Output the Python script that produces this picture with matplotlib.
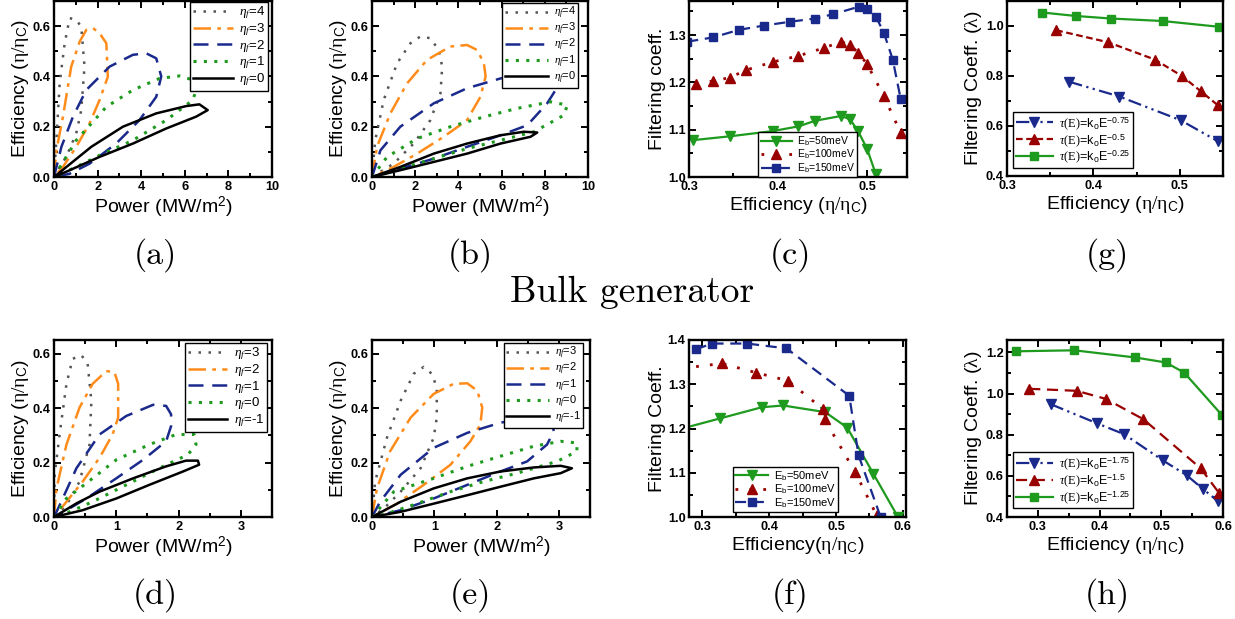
import matplotlib
matplotlib.use("Agg")
import matplotlib.pyplot as plt
from matplotlib.ticker import AutoMinorLocator

plt.rcParams['font.family'] = ['Liberation Sans', 'DejaVu Sans']
plt.rcParams['mathtext.fontset'] = 'custom'
plt.rcParams['mathtext.rm'] = 'Liberation Serif'
plt.rcParams['mathtext.it'] = 'Liberation Serif:italic'
plt.rcParams['mathtext.sf'] = 'Liberation Sans'
plt.rcParams['mathtext.bf'] = 'Liberation Sans:bold'

# ---------------- data: panel (a) ----------------
a_x4 = [0, 0.11, 0.26, 0.49, 0.72, 1.02, 1.25, 1.40, 1.25, 1.02, 0.56, 0.18, 0]
a_y4 = [0, 0.146, 0.372, 0.532, 0.632, 0.625, 0.598, 0.439, 0.266, 0.173, 0.08, 0.027, 0]
a_x3 = [0, 0.11, 0.41, 0.79, 1.18, 1.48, 1.79, 2.09, 2.40, 2.47, 2.09, 1.63, 1.02, 0.41, 0]
a_y3 = [0, 0.106, 0.24, 0.439, 0.539, 0.585, 0.592, 0.572, 0.532, 0.399, 0.306, 0.213, 0.12, 0.04, 0]
a_x2 = [0, 0.34, 0.87, 1.48, 2.55, 3.62, 4.23, 4.69, 4.92, 4.69, 3.92, 2.85, 1.63, 0.72, 0]
a_y2 = [0, 0.12, 0.24, 0.346, 0.439, 0.486, 0.492, 0.472, 0.40, 0.319, 0.226, 0.133, 0.053, 0.013, 0]
a_x1 = [0, 1.02, 2.40, 3.62, 4.84, 5.76, 6.37, 6.52, 6.37, 5.15, 3.62, 2.09, 1.02, 0]
a_y1 = [0, 0.146, 0.279, 0.346, 0.392, 0.402, 0.386, 0.346, 0.306, 0.226, 0.146, 0.086, 0.04, 0]
a_x0 = [0, 1.71, 3.16, 4.69, 6.06, 6.67, 7.05, 6.52, 5.15, 3.62, 2.09, 0.72, 0]
a_y0 = [0, 0.12, 0.20, 0.253, 0.282, 0.289, 0.266, 0.24, 0.193, 0.133, 0.08, 0.027, 0]

# ---------------- data: panel (b) ----------------
b_x4 = [0, 0.15, 0.54, 1.16, 1.78, 2.24, 2.70, 3.09, 3.25, 3.17, 2.70, 1.93, 1.00, 0]
b_y4 = [0, 0.146, 0.306, 0.452, 0.532, 0.559, 0.552, 0.505, 0.439, 0.333, 0.226, 0.133, 0.053, 0]
b_x3 = [0, 0.23, 0.85, 1.62, 2.55, 3.63, 4.40, 4.87, 5.18, 5.26, 5.02, 4.40, 3.32, 2.09, 1.00, 0]
b_y3 = [0, 0.12, 0.253, 0.372, 0.466, 0.519, 0.525, 0.505, 0.452, 0.40, 0.319, 0.226, 0.16, 0.093, 0.04, 0]
b_x2 = [0, 0.39, 1.31, 2.86, 4.40, 5.95, 7.50, 8.27, 8.50, 8.11, 7.19, 5.95, 4.40, 2.86, 1.31, 0]
b_y2 = [0, 0.106, 0.20, 0.293, 0.353, 0.392, 0.41, 0.399, 0.346, 0.293, 0.206, 0.166, 0.12, 0.073, 0.033, 0]
b_x1 = [0, 0.70, 2.09, 3.63, 5.18, 6.72, 8.27, 9.04, 8.89, 7.50, 5.95, 4.40, 2.86, 1.31, 0]
b_y1 = [0, 0.08, 0.153, 0.20, 0.239, 0.273, 0.299, 0.286, 0.246, 0.18, 0.146, 0.113, 0.073, 0.033, 0]
b_x0 = [0, 1.31, 2.86, 4.40, 5.95, 7.03, 7.65, 7.34, 5.95, 4.40, 2.86, 1.31, 0]
b_y0 = [0, 0.04, 0.093, 0.133, 0.166, 0.18, 0.177, 0.16, 0.133, 0.093, 0.06, 0.027, 0]

# ---------------- data: panel (d) ----------------
d_x3 = [0, 0.01, 0.09, 0.20, 0.30, 0.44, 0.54, 0.60, 0.57, 0.41, 0.20, 0]
d_y3 = [0, 0.155, 0.303, 0.489, 0.581, 0.594, 0.563, 0.427, 0.266, 0.13, 0.043, 0]
d_x2 = [0, 0.04, 0.20, 0.41, 0.62, 0.84, 0.97, 1.03, 1.03, 0.94, 0.73, 0.46, 0.20, 0]
d_y2 = [0, 0.105, 0.266, 0.402, 0.489, 0.536, 0.532, 0.489, 0.365, 0.303, 0.217, 0.13, 0.056, 0]
d_x1 = [0, 0.09, 0.36, 0.73, 1.16, 1.59, 1.80, 1.88, 1.88, 1.80, 1.43, 1.00, 0.52, 0.20, 0]
d_y1 = [0, 0.043, 0.179, 0.303, 0.371, 0.412, 0.408, 0.377, 0.334, 0.278, 0.21, 0.142, 0.068, 0.025, 0]
d_x0 = [0, 0.20, 0.62, 1.00, 1.53, 1.96, 2.25, 2.28, 2.15, 1.69, 1.16, 0.62, 0.25, 0]
d_y0 = [0, 0.068, 0.142, 0.21, 0.266, 0.303, 0.303, 0.266, 0.229, 0.179, 0.118, 0.056, 0.019, 0]
d_xm1 = [0, 0.36, 0.73, 1.27, 1.80, 2.12, 2.31, 2.33, 2.07, 1.53, 1.00, 0.46, 0]
d_ym1 = [0, 0.05, 0.093, 0.142, 0.186, 0.207, 0.207, 0.192, 0.167, 0.118, 0.068, 0.025, 0]

# ---------------- data: panel (e) ----------------
e_x3 = [0, 0.05, 0.24, 0.46, 0.67, 0.83, 0.96, 1.04, 1.04, 0.99, 0.78, 0.46, 0.19, 0]
e_y3 = [0, 0.13, 0.291, 0.427, 0.526, 0.551, 0.526, 0.476, 0.365, 0.291, 0.179, 0.093, 0.031, 0]
e_x2 = [0, 0.08, 0.29, 0.62, 0.99, 1.31, 1.53, 1.69, 1.77, 1.74, 1.58, 1.26, 0.83, 0.40, 0]
e_y2 = [0, 0.105, 0.241, 0.365, 0.452, 0.489, 0.491, 0.464, 0.402, 0.34, 0.278, 0.192, 0.118, 0.049, 0]
e_x1 = [0, 0.13, 0.46, 0.99, 1.53, 2.06, 2.60, 2.87, 2.92, 2.81, 2.49, 2.06, 1.53, 0.99, 0.46, 0]
e_y1 = [0, 0.056, 0.155, 0.254, 0.309, 0.346, 0.371, 0.359, 0.315, 0.266, 0.204, 0.167, 0.118, 0.068, 0.025, 0]
e_x0 = [0, 0.35, 0.99, 1.53, 2.06, 2.60, 3.03, 3.29, 3.29, 2.97, 2.33, 1.79, 1.26, 0.72, 0.24, 0]
e_y0 = [0, 0.093, 0.142, 0.186, 0.223, 0.26, 0.278, 0.272, 0.241, 0.204, 0.161, 0.13, 0.093, 0.049, 0.012, 0]
e_xm1 = [0, 0.46, 0.99, 1.53, 2.06, 2.60, 3.03, 3.21, 3.03, 2.60, 2.06, 1.53, 0.99, 0.46, 0]
e_ym1 = [0, 0.056, 0.105, 0.142, 0.167, 0.182, 0.188, 0.179, 0.161, 0.142, 0.111, 0.08, 0.049, 0.019, 0]

# ---------------- data: panel (c) ----------------
c_x150 = [0.298, 0.327, 0.356, 0.384, 0.413, 0.442, 0.462, 0.491, 0.500, 0.510, 0.519, 0.529, 0.538]
c_y150 = [1.286, 1.295, 1.311, 1.320, 1.328, 1.335, 1.344, 1.360, 1.356, 1.339, 1.305, 1.248, 1.164]
c_x100 = [0.308, 0.327, 0.346, 0.364, 0.394, 0.423, 0.452, 0.471, 0.481, 0.490, 0.500, 0.519, 0.538]
c_y100 = [1.196, 1.203, 1.210, 1.226, 1.243, 1.256, 1.273, 1.286, 1.279, 1.263, 1.239, 1.171, 1.093]
c_x50 = [0.305, 0.346, 0.394, 0.423, 0.442, 0.471, 0.481, 0.490, 0.500, 0.510]
c_y50 = [1.078, 1.086, 1.097, 1.107, 1.119, 1.129, 1.122, 1.097, 1.060, 1.006]

# ---------------- data: panel (f) ----------------
f_x150 = [0.290, 0.315, 0.367, 0.426, 0.520, 0.534, 0.567]
f_y150 = [1.379, 1.392, 1.392, 1.381, 1.274, 1.139, 1.000]
f_x100 = [0.270, 0.329, 0.381, 0.428, 0.480, 0.483, 0.529, 0.561]
f_y100 = [1.336, 1.347, 1.326, 1.308, 1.245, 1.221, 1.101, 1.004]
f_x50 = [0.270, 0.327, 0.389, 0.421, 0.484, 0.517, 0.556, 0.593]
f_y50 = [1.200, 1.223, 1.248, 1.252, 1.237, 1.202, 1.098, 1.000]

# ---------------- data: panel (g) ----------------
g_x25 = [0.341, 0.380, 0.420, 0.480, 0.545]
g_y25 = [1.054, 1.040, 1.030, 1.020, 0.997]
g_x50 = [0.357, 0.417, 0.471, 0.502, 0.524, 0.544, 0.565]
g_y50 = [0.983, 0.935, 0.866, 0.801, 0.740, 0.683, 0.610]
g_x75 = [0.372, 0.430, 0.501, 0.544]
g_y75 = [0.777, 0.718, 0.623, 0.539]

# ---------------- data: panel (h) ----------------
h_x125 = [0.264, 0.359, 0.458, 0.507, 0.537, 0.598]
h_y125 = [1.205, 1.210, 1.175, 1.151, 1.102, 0.896]
h_x150 = [0.286, 0.363, 0.410, 0.471, 0.564, 0.593]
h_y150 = [1.023, 1.013, 0.974, 0.875, 0.636, 0.519]
h_x175 = [0.321, 0.396, 0.440, 0.502, 0.541, 0.568, 0.592]
h_y175 = [0.948, 0.855, 0.802, 0.676, 0.603, 0.535, 0.476]

# ---------------- ticks / labels ----------------
pow_ticks_top = [0, 2, 4, 6, 8, 10]
pow_ticks_bot = [0, 1, 2, 3]
eff_ticks_top = [0.0, 0.2, 0.4, 0.6]
eff_ticks_bot = [0.0, 0.2, 0.4, 0.6]
c_xticks = [0.3, 0.4, 0.5]
c_yticks = [1.0, 1.1, 1.2, 1.3]
g_xticks = [0.3, 0.4, 0.5]
g_yticks = [0.4, 0.6, 0.8, 1.0]
f_xticks = [0.3, 0.4, 0.5, 0.6]
f_yticks = [1.0, 1.1, 1.2, 1.3, 1.4]
h_xticks = [0.3, 0.4, 0.5, 0.6]
h_yticks = [0.4, 0.6, 0.8, 1.0, 1.2]

top_labels = [r'$\eta_f$=4', r'$\eta_f$=3', r'$\eta_f$=2', r'$\eta_f$=1', r'$\eta_f$=0']
bot_labels = [r'$\eta_f$=3', r'$\eta_f$=2', r'$\eta_f$=1', r'$\eta_f$=0', r'$\eta_f$=-1']
eb_labels = [r'E$_\mathsf{b}$=50meV', r'E$_\mathsf{b}$=100meV', r'E$_\mathsf{b}$=150meV']
g_labels = [r'$\tau\mathrm{(E)}$=k$_\mathsf{o}$E$^\mathsf{-0.75}$',
            r'$\tau\mathrm{(E)}$=k$_\mathsf{o}$E$^\mathsf{-0.5}$',
            r'$\tau\mathrm{(E)}$=k$_\mathsf{o}$E$^\mathsf{-0.25}$']
h_labels = [r'$\tau\mathrm{(E)}$=k$_\mathsf{o}$E$^\mathsf{-1.75}$',
            r'$\tau\mathrm{(E)}$=k$_\mathsf{o}$E$^\mathsf{-1.5}$',
            r'$\tau\mathrm{(E)}$=k$_\mathsf{o}$E$^\mathsf{-1.25}$']
captions = ['(a)', '(b)', '(c)', '(g)', '(d)', '(e)', '(f)', '(h)']

# ---------------- styles ----------------
GRAY = '#555555'
ORANGE = '#ff8c1a'
NAVY = '#1a2a8c'
GREEN = '#1e9a1e'
DKRED = '#990000'
loop_styles = [
    dict(color=GRAY, ls=(0, (1, 3.0)), lw=1.8),
    dict(color=ORANGE, ls=(0, (7, 2.5, 1.5, 2.5)), lw=1.8),
    dict(color=NAVY, ls=(0, (6, 3.5)), lw=1.8),
    dict(color=GREEN, ls=(0, (1, 2.4)), lw=2.2),
    dict(color='black', ls='-', lw=1.8),
]

W, H = 1235, 619
fig = plt.figure(figsize=(W / 100, H / 100), dpi=100)
TICKFS = 9.2
LABFS = 14


def make_ax(l, t, r, b):
    return fig.add_axes([l / W, 1 - b / H, (r - l) / W, (b - t) / H])


def style_ax(ax, xticks, yticks, xfmt, yfmt, xlim, ylim):
    ax.set_xlim(*xlim)
    ax.set_ylim(*ylim)
    ax.set_xticks(xticks, [xfmt.format(v) for v in xticks], fontweight='bold', fontsize=TICKFS)
    ax.set_yticks(yticks, [yfmt.format(v) for v in yticks], fontweight='bold', fontsize=TICKFS)
    ax.xaxis.set_minor_locator(AutoMinorLocator(2))
    ax.yaxis.set_minor_locator(AutoMinorLocator(2))
    ax.tick_params(which='both', direction='in', top=True, right=True, width=1.4)
    ax.tick_params(axis='x', which='both', pad=3)
    ax.tick_params(axis='y', which='both', pad=2.5)
    ax.tick_params(which='major', length=5)
    ax.tick_params(which='minor', length=3)
    for s in ax.spines.values():
        s.set_linewidth(1.7)


def legend(ax, fs, **kw):
    lg = ax.legend(fontsize=fs, frameon=True, fancybox=False, framealpha=1,
                   edgecolor='black', borderaxespad=0, borderpad=0.2,
                   labelspacing=0.0, handletextpad=0.5, **kw)
    lg.get_frame().set_linewidth(1.0)
    return lg


eff_label = r'Efficiency ($\mathrm{\eta/\eta}_\mathsf{C}$)'
pow_label = r'Power (MW/m$^\mathsf{2}$)'

# (a)
ax = make_ax(54, 1, 272, 177)
for xs, ys, lab, st in zip([a_x4, a_x3, a_x2, a_x1, a_x0], [a_y4, a_y3, a_y2, a_y1, a_y0], top_labels, loop_styles):
    ax.plot(xs, ys, label=lab, **st)
style_ax(ax, pow_ticks_top, eff_ticks_top, '{:g}', '{:.1f}', (0, 10), (0, 0.7))
ax.set_xlabel(pow_label, fontsize=LABFS, labelpad=1)
ax.set_ylabel(eff_label, fontsize=LABFS, labelpad=1)
legend(ax, 9.5, loc='upper right', bbox_to_anchor=(0.982, 0.994), handlelength=3.0)

# (b)
ax = make_ax(372, 1, 588, 177)
for xs, ys, lab, st in zip([b_x4, b_x3, b_x2, b_x1, b_x0], [b_y4, b_y3, b_y2, b_y1, b_y0], top_labels, loop_styles):
    ax.plot(xs, ys, label=lab, **st)
style_ax(ax, pow_ticks_top, eff_ticks_top, '{:g}', '{:.1f}', (0, 10), (0, 0.7))
ax.set_xlabel(pow_label, fontsize=LABFS, labelpad=1)
ax.set_ylabel(eff_label, fontsize=LABFS, labelpad=1)
legend(ax, 8, loc='upper right', bbox_to_anchor=(0.954, 0.989), handlelength=3.9)

# (c)
ax = make_ax(689, 1, 907, 177)
ax.plot(c_x50, c_y50, color=GREEN, ls='-', lw=1.6, marker='v', ms=6.5, label=eb_labels[0])
ax.plot(c_x100, c_y100, color=DKRED, ls=(0, (1, 4)), lw=2.0, marker='^', ms=6.5, label=eb_labels[1])
ax.plot(c_x150, c_y150, color=NAVY, ls=(0, (5, 3)), lw=1.6, marker='s', ms=5.5, label=eb_labels[2])
style_ax(ax, c_xticks, c_yticks, '{:.1f}', '{:.1f}', (0.3, 0.545), (1.0, 1.372))
ax.set_xlabel(eff_label, fontsize=LABFS, labelpad=1)
ax.set_ylabel('Filtering coeff.', fontsize=LABFS, labelpad=1)
legend(ax, 7.5, loc='lower right', bbox_to_anchor=(0.771, 0.0), handlelength=3.0)

# (g)
ax = make_ax(1007, 1, 1223, 176)
ax.plot(g_x75, g_y75, color=NAVY, ls=(0, (6, 2, 1, 2, 1, 2)), lw=1.6, marker='v', ms=6.5, label=g_labels[0])
ax.plot(g_x50, g_y50, color=DKRED, ls=(0, (3, 1.6)), lw=1.6, marker='^', ms=6.5, label=g_labels[1])
ax.plot(g_x25, g_y25, color=GREEN, ls='-', lw=1.6, marker='s', ms=5.5, label=g_labels[2])
style_ax(ax, g_xticks, g_yticks, '{:.1f}', '{:.1f}', (0.3, 0.55), (0.4, 1.1))
ax.set_xlabel(eff_label, fontsize=LABFS, labelpad=1)
ax.set_ylabel(r'Filtering Coeff. ($\mathrm{\lambda}$)', fontsize=LABFS, labelpad=1)
legend(ax, 9, loc='lower left', bbox_to_anchor=(0.028, 0.046), handlelength=3.0)

# (d)
ax = make_ax(54, 340, 272, 517)
for xs, ys, lab, st in zip([d_x3, d_x2, d_x1, d_x0, d_xm1], [d_y3, d_y2, d_y1, d_y0, d_ym1], bot_labels, loop_styles):
    ax.plot(xs, ys, label=lab, **st)
style_ax(ax, pow_ticks_bot, eff_ticks_bot, '{:g}', '{:.1f}', (0, 3.5), (0, 0.65))
ax.set_xlabel(pow_label, fontsize=LABFS, labelpad=1)
ax.set_ylabel(eff_label, fontsize=LABFS, labelpad=1)
legend(ax, 9.5, loc='upper right', bbox_to_anchor=(0.977, 0.983), handlelength=3.0)

# (e)
ax = make_ax(372, 340, 590, 517)
for xs, ys, lab, st in zip([e_x3, e_x2, e_x1, e_x0, e_xm1], [e_y3, e_y2, e_y1, e_y0, e_ym1], bot_labels, loop_styles):
    ax.plot(xs, ys, label=lab, **st)
style_ax(ax, pow_ticks_bot, eff_ticks_bot, '{:g}', '{:.1f}', (0, 3.5), (0, 0.65))
ax.set_xlabel(pow_label, fontsize=LABFS, labelpad=1)
ax.set_ylabel(eff_label, fontsize=LABFS, labelpad=1)
legend(ax, 8, loc='upper right', bbox_to_anchor=(0.968, 0.983), handlelength=3.9)

# (f)
ax = make_ax(689, 340, 906, 517)
ax.plot(f_x50, f_y50, color=GREEN, ls='-', lw=1.6, marker='v', ms=6.5, label=eb_labels[0])
ax.plot(f_x100, f_y100, color=DKRED, ls=(0, (1, 4)), lw=2.0, marker='^', ms=6.5, label=eb_labels[1])
ax.plot(f_x150, f_y150, color=NAVY, ls=(0, (5, 3)), lw=1.6, marker='s', ms=5.5, label=eb_labels[2])
style_ax(ax, f_xticks, f_yticks, '{:.1f}', '{:.1f}', (0.28, 0.605), (1.0, 1.4))
ax.set_xlabel(r'Efficiency($\mathrm{\eta/\eta}_\mathsf{C}$)', fontsize=LABFS, labelpad=1)
ax.set_ylabel('Filtering Coeff.', fontsize=LABFS, labelpad=1)
legend(ax, 8, loc='lower right', bbox_to_anchor=(0.687, 0.028), handlelength=3.0)

# (h)
ax = make_ax(1007, 340, 1223, 517)
ax.plot(h_x175, h_y175, color=NAVY, ls=(0, (6, 2, 1, 2, 1, 2)), lw=1.6, marker='v', ms=6.5, label=h_labels[0])
ax.plot(h_x150, h_y150, color=DKRED, ls=(0, (5, 3)), lw=1.6, marker='^', ms=6.5, label=h_labels[1])
ax.plot(h_x125, h_y125, color=GREEN, ls='-', lw=1.6, marker='s', ms=5.5, label=h_labels[2])
style_ax(ax, h_xticks, h_yticks, '{:.1f}', '{:.1f}', (0.25, 0.6), (0.4, 1.26))
ax.set_xlabel(eff_label, fontsize=LABFS, labelpad=1)
ax.set_ylabel(r'Filtering Coeff. ($\mathrm{\lambda}$)', fontsize=LABFS, labelpad=1)
legend(ax, 9, loc='lower left', bbox_to_anchor=(0.028, 0.05), handlelength=3.0)

# captions
cap_pos = [(155, 255), (470, 255), (790, 255), (1107, 255),
           (155, 595), (470, 595), (790, 595), (1107, 595)]
for txt, (px, py) in zip(captions, cap_pos):
    fig.text(px / W, 1 - py / H, txt, family='cmr10', fontsize=24.5, ha='center', va='center')
fig.text(632 / W, 1 - 292 / H, 'Bulk generator', family='cmr10', fontsize=27, ha='center', va='center')

fig.savefig('out.png', dpi=100)
